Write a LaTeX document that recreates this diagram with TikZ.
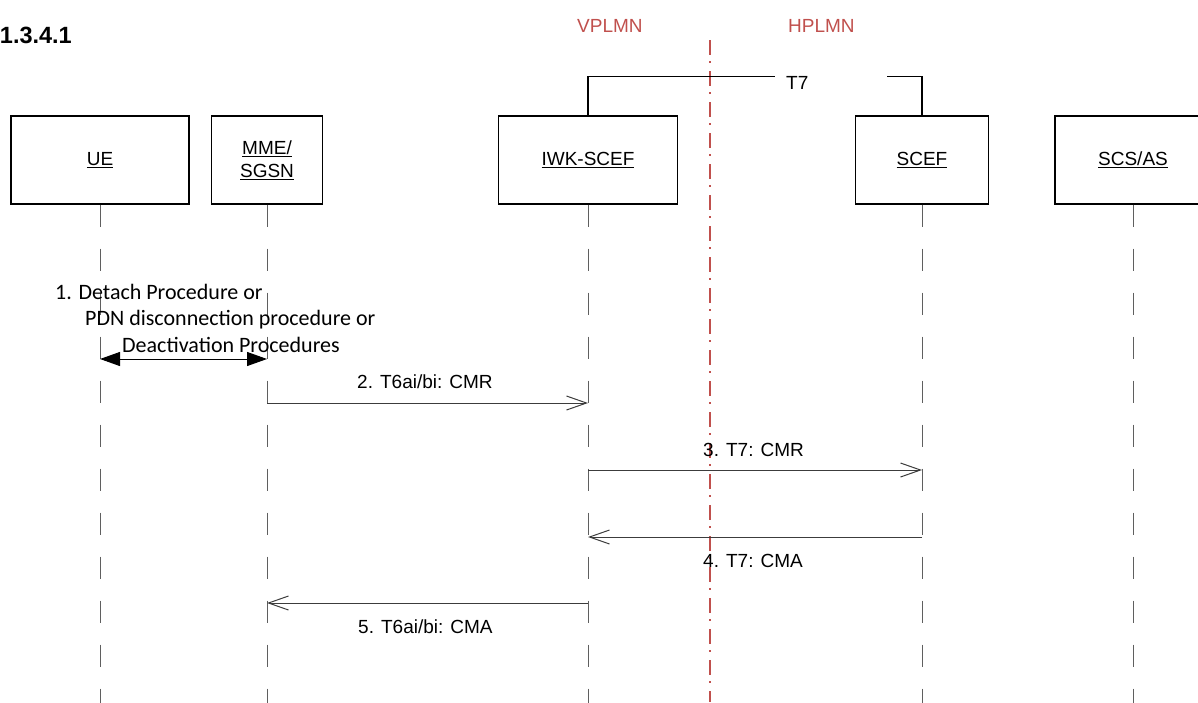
\documentclass[tikz,border=0pt]{standalone}
\usepackage{fontspec}
\setmainfont{Liberation Sans}
\newfontfamily\calfont{Carlito}
\usetikzlibrary{arrows.meta}
\definecolor{plmnred}{RGB}{192,80,77}
\definecolor{lifegray}{RGB}{95,95,95}
\definecolor{msggray}{RGB}{60,60,60}
\tikzset{
  entity/.style={draw=black, line width=1.3pt, minimum height=88pt, inner sep=0pt, font=\fontsize{19}{23}\selectfont, align=center},
  lifeline/.style={draw=lifegray, line width=1pt, dash pattern=on 22pt off 22pt},
  msg/.style={draw=msggray, line width=1pt, -{Straight Barb[length=20pt,width=14pt,line width=1pt]}},
  dblmsg/.style={draw=black, line width=1pt, {Triangle[length=20pt,width=14pt]}-{Triangle[length=20pt,width=14pt]}},
  lbl/.style={font=\fontsize{19}{23}\selectfont, inner sep=0pt, anchor=base west},
  callbl/.style={font=\calfont\fontsize{22}{26}\selectfont, inner sep=0pt, anchor=base west},
  plmn/.style={font=\fontsize{19}{23}\selectfont, text=plmnred, inner sep=0pt, anchor=base west},
  border/.style={draw=plmnred, line width=1.5pt, dash pattern=on 15pt off 6pt on 2pt off 8pt},
  iface/.style={draw=black, line width=1.8pt}
}
\begin{document}
\begin{tikzpicture}[x=1pt, y=-1pt]
\useasboundingbox (0,0) rectangle (1198,702);
\clip (0,0) rectangle (1198,702);
% title
\node[font=\bfseries\fontsize{23.5}{27}\selectfont, inner sep=0pt, anchor=base east] (title) at (72,43) {1.3.4.1};
% PLMN labels and border
\node[plmn] (vplmn) at (577,32) {VPLMN};
\node[plmn] (hplmn) at (788,32) {HPLMN};
\coordinate (bordtop) at (710,40);
\coordinate (bordbot) at (710,702);
\draw[border] (bordtop) -- (bordbot);
% entities
\node[entity, minimum width=178pt] (ue) at (100,160) {\underline{UE}};
\node[entity, minimum width=111pt] (mme) at (267,160) {\underline{MME/}\\\underline{SGSN}};
\node[entity, minimum width=179pt] (iwk) at (588,160) {\underline{IWK-SCEF}};
\node[entity, minimum width=133pt] (scef) at (922,160) {\underline{SCEF}};
\node[entity, minimum width=156pt] (scs) at (1133,160) {\underline{SCS/AS}};
% T7 interface
\coordinate (t7l) at (775,76.5);
\coordinate (t7r) at (887,76.5);
\node[lbl] (t7) at (786,89) {T7};
\draw[iface] (iwk.north) |- (t7l);
\draw[iface] (scef.north) |- (t7r);
% lifelines
\coordinate (bot) at (0,712);
\foreach \n in {ue,mme,iwk,scef,scs} {
  \draw[lifeline] (\n.south) -- (\n.south |- bot);
}
% y levels
\coordinate (y1) at (0,359);
\coordinate (y2) at (0,403);
\coordinate (y3) at (0,470);
\coordinate (y4) at (0,537);
\coordinate (y5) at (0,603);
% step 1
\node[callbl] (s1a) at (55,299) {1. Detach Procedure or};
\node[callbl] (s1b) at (85,325) {PDN disconnection procedure or};
\node[callbl] (s1c) at (122,352) {Deactivation Procedures};
\draw[dblmsg] (ue |- y1) -- (mme |- y1);
% step 2
\draw[msg] (mme |- y2) -- (iwk |- y2);
\node[lbl] (s2) at (357,388) {2. T6ai/bi: CMR};
% step 3
\draw[msg] (iwk |- y3) -- (scef |- y3);
\node[lbl] (s3) at (703,456) {3. T7: CMR};
% step 4
\draw[msg] (scef |- y4) -- (iwk |- y4);
\node[lbl] (s4) at (703,567) {4. T7: CMA};
% step 5
\draw[msg] (iwk |- y5) -- (mme |- y5);
\node[lbl] (s5) at (358,633) {5. T6ai/bi: CMA};
\end{tikzpicture}
\end{document}
